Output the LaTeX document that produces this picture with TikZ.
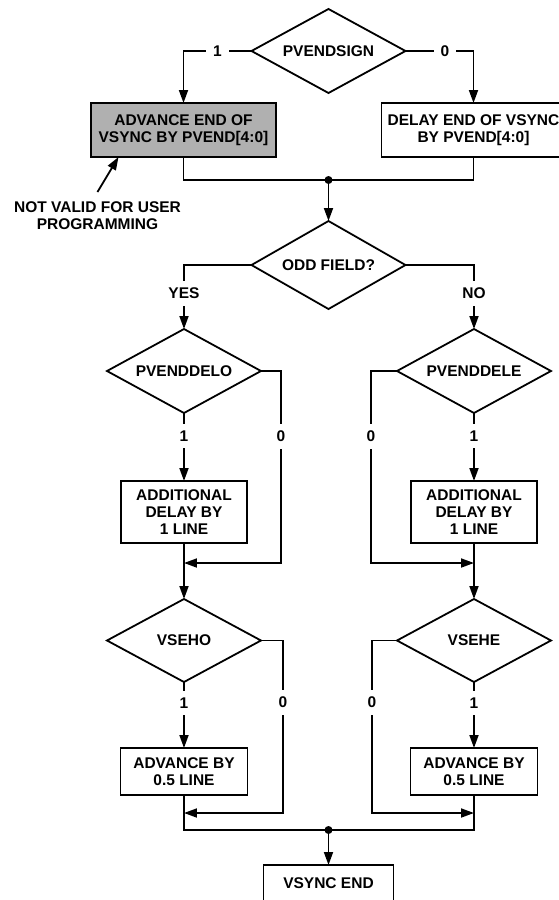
\documentclass[tikz,border=0pt]{standalone}
\usepackage{fontspec}
\setmainfont{Liberation Sans}
\usetikzlibrary{shapes.geometric,positioning,arrows.meta}

\begin{document}
\begin{tikzpicture}[line width=1.8pt,
  font=\bfseries\fontsize{15.5}{17}\selectfont,
  every node/.append style={outer sep=0pt},
  decide/.style={diamond,draw,aspect=1.8,minimum width=154pt,minimum height=84pt,inner sep=0pt},
  stepbox/.style={rectangle,draw,align=center,inner sep=2pt,minimum width=126pt,minimum height=62pt},
  lbl/.style={fill=white,inner sep=7pt},
  dot/.style={circle,fill,inner sep=0pt,minimum size=8pt},
  arr/.style={-{Triangle[length=13pt,width=9pt]}}]
  \useasboundingbox (-328.5pt,51pt) rectangle (230.5pt,-849pt);
  % sign of the end offset
  \node[decide] (sign) {PVENDSIGN};
  \node[stepbox,fill=black!31,minimum width=185pt,minimum height=54pt,
        below=10pt of sign,xshift=-145pt] (adv) {ADVANCE END OF\\VSYNC BY PVEND[4:0]};
  \node[stepbox,minimum width=184pt,minimum height=54pt,
        below=10pt of sign,xshift=145pt] (dly) {DELAY END OF VSYNC\\BY PVEND[4:0]};
  \node[below=40pt of adv,xshift=-86pt,align=center,inner sep=5pt] (note) {NOT VALID FOR USER\\PROGRAMMING};
  \node[dot] (jtop) at ([yshift=-87pt]sign.south) {};
  % field select
  \node[decide,minimum height=88pt,below=128pt of sign] (odd) {ODD FIELD?};
  \node[decide,below=20pt of odd,xshift=-144.5pt] (delo) {PVENDDELO};
  \node[decide,below=20pt of odd,xshift=145.5pt] (dele) {PVENDDELE};
  \node[stepbox,below=68pt of delo] (addl) {ADDITIONAL\\DELAY BY\\1 LINE};
  \node[stepbox,below=68pt of dele] (addr) {ADDITIONAL\\DELAY BY\\1 LINE};
  \coordinate[below=20pt of addl] (jl1);
  \coordinate[below=20pt of addr] (jr1);
  \node[decide,minimum height=83pt,below=56pt of addl] (vseho) {VSEHO};
  \node[decide,minimum height=83pt,below=56pt of addr] (vsehe) {VSEHE};
  \node[stepbox,minimum width=127pt,minimum height=47pt,below=66pt of vseho] (advl) {ADVANCE BY\\0.5 LINE};
  \node[stepbox,minimum width=127pt,minimum height=47pt,below=66pt of vsehe] (advr) {ADVANCE BY\\0.5 LINE};
  \coordinate[below=18pt of advl] (jl2);
  \coordinate[below=18pt of advr] (jr2);
  \node[stepbox,minimum width=130pt,minimum height=36pt,below=70pt of advl,xshift=144.5pt] (vend) {VSYNC END};
  \node[dot] (jbot) at ([yshift=35pt]vend.north) {};

  \draw[arr] (sign.west) -| node[lbl,pos=0.25]{1} (adv);
  \draw[arr] (sign.east) -| node[lbl,pos=0.29]{0} (dly);
  \draw (adv) |- (jtop.center) -| (dly);
  \draw[arr] ([yshift=5pt]note.north) -- ([xshift=-65pt]adv.south);
  \draw[arr] (jtop) -- (odd);
  \draw[arr] (odd.west) -| node[lbl,pos=0.72]{YES} (delo);
  \draw[arr] (odd.east) -| node[lbl,pos=0.72]{NO} (dele);
  % odd field
  \draw[arr] (delo) -- node[lbl,pos=0.34]{1} (addl);
  \draw[arr] (delo.east) -- ++(20pt,0) |- node[lbl,pos=0.17]{0} (jl1);
  \draw[arr] (addl) -- (vseho);
  \draw[arr] (vseho) -- node[lbl,pos=0.32]{1} (advl);
  \draw[arr] (vseho.east) -- ++(22pt,0) |- node[lbl,pos=0.18]{0} (jl2);
  % even field
  \draw[arr] (dele) -- node[lbl,pos=0.34]{1} (addr);
  \draw[arr] (dele.west) -- ++(-26pt,0) |- node[lbl,pos=0.17]{0} (jr1);
  \draw[arr] (addr) -- (vsehe);
  \draw[arr] (vsehe) -- node[lbl,pos=0.32]{1} (advr);
  \draw[arr] (vsehe.west) -- ++(-25pt,0) |- node[lbl,pos=0.18]{0} (jr2);
  % end
  \draw (advl) |- (jbot.center) -| (advr);
  \draw[arr] (jbot) -- (vend);
\end{tikzpicture}
\end{document}
